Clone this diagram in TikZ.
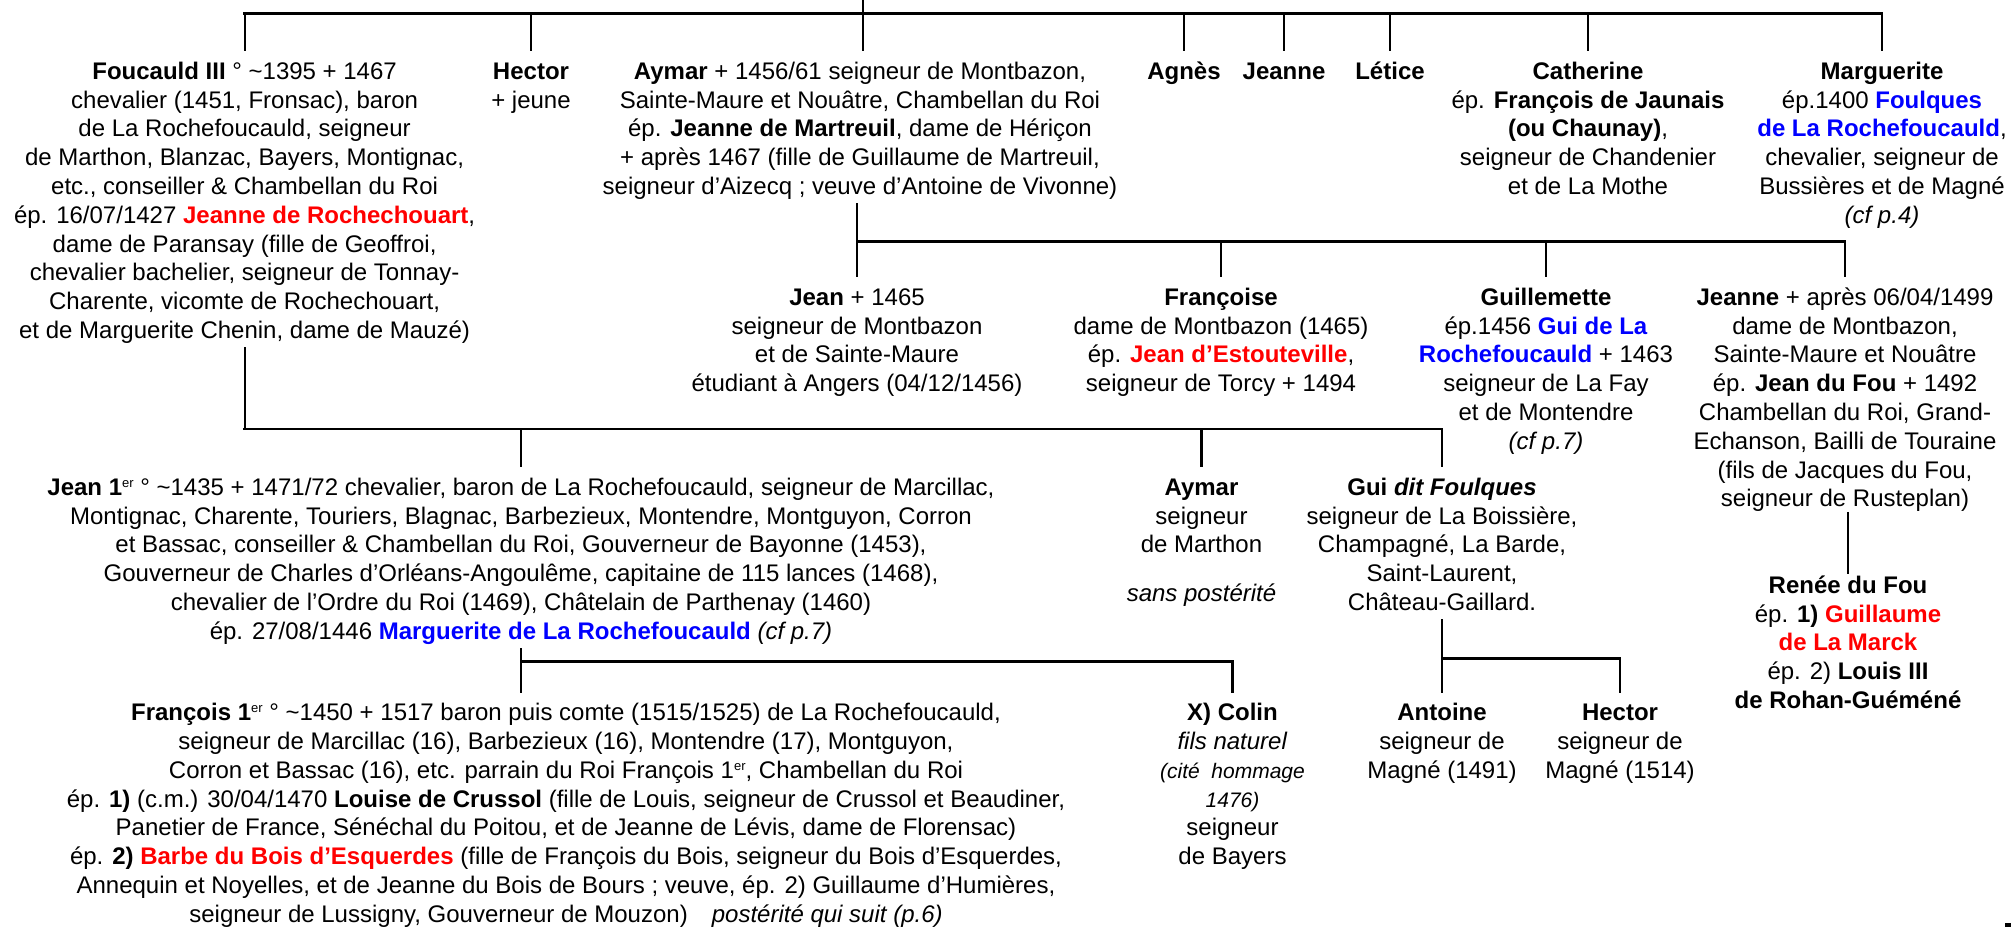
\documentclass[tikz,border=0pt]{standalone}
\usepackage{fontspec}
\setmainfont{Liberation Sans}
\usetikzlibrary{calc}
\definecolor{rred}{RGB}{255,0,0}
\definecolor{bblue}{RGB}{0,0,255}
\newcommand\hdtop{\rule{0pt}{28pt}}
\newcommand\redname[1]{\textcolor{rred}{\textbf{#1}}}
\newcommand\bluename[1]{\textcolor{bblue}{\textbf{#1}}}
\newcommand\smallsup[1]{\raisebox{8pt}{\fontsize{13}{13}\selectfont\mdseries #1}}
\begin{document}
\begin{tikzpicture}[x=1pt,y=-1pt,
  person/.style={align=center, inner sep=0pt, anchor=north, font=\fontsize{24}{28.8}\selectfont},
  bar/.style={line width=2.8pt, line cap=rect},
  drop/.style={line width=2.1pt}]
\useasboundingbox (0,0) rectangle (2011,927);

% ---------- row 1 ----------
\node[person] (foucauld) at (244.6,51) {\hdtop\textbf{Foucauld III} ° \textasciitilde1395 + 1467\\
chevalier (1451, Fronsac), baron\\
de La Rochefoucauld, seigneur\\
de Marthon, Blanzac, Bayers, Montignac,\\
etc., conseiller \& Chambellan du Roi\\
ép. 16/07/1427 \redname{Jeanne de Rochechouart},\\
dame de Paransay (fille de Geoffroi,\\
chevalier bachelier, seigneur de Tonnay-\\
Charente, vicomte de Rochechouart,\\
et de Marguerite Chenin, dame de Mauzé)\strut};

\node[person] (hector) at (531,51) {\hdtop\textbf{Hector}\\ + jeune};

\node[person] (aymar) at (860,51) {\hdtop\textbf{Aymar} + 1456/61 seigneur de Montbazon,\\
Sainte-Maure et Nouâtre, Chambellan du Roi\\
ép. \textbf{Jeanne de Martreuil}, dame de Hériçon\\
+ après 1467 (fille de Guillaume de Martreuil,\\
seigneur d’Aizecq ; veuve d’Antoine de Vivonne)\strut};

\node[person] (agnes) at (1184,51) {\hdtop\textbf{Agnès}};
\node[person] (jeanneA) at (1284,51) {\hdtop\textbf{Jeanne}};
\node[person] (letice) at (1390,51) {\hdtop\textbf{Létice}};

\node[person] (catherine) at (1588,51) {\hdtop\textbf{Catherine}\\
ép. \textbf{François de Jaunais}\\
\textbf{(ou Chaunay)},\\
seigneur de Chandenier\\
et de La Mothe};

\node[person] (marguerite) at (1882,51) {\hdtop\textbf{Marguerite}\\
ép.1400 \bluename{Foulques}\\
\bluename{de La Rochefoucauld},\\
chevalier, seigneur de\\
Bussières et de Magné\\
\textit{(cf p.4)}};

% ---------- row 2 ----------
\node[person] (jean) at (857,277) {\hdtop\textbf{Jean} + 1465\\
seigneur de Montbazon\\
et de Sainte-Maure\\
étudiant à Angers (04/12/1456)};

\node[person] (francoise) at (1221,277) {\hdtop\textbf{Françoise}\\
dame de Montbazon (1465)\\
ép. \redname{Jean d’Estouteville},\\
seigneur de Torcy + 1494};

\node[person] (guillemette) at (1546,277) {\hdtop\textbf{Guillemette}\\
ép.1456 \bluename{Gui de La}\\
\bluename{Rochefoucauld} + 1463\\
seigneur de La Fay\\
et de Montendre\\
\textit{(cf p.7)}};

\node[person] (jeanneB) at (1845,277) {\hdtop\textbf{Jeanne} + après 06/04/1499\\
dame de Montbazon,\\
Sainte-Maure et Nouâtre\\
ép. \textbf{Jean du Fou} + 1492\\
Chambellan du Roi, Grand-\\
Echanson, Bailli de Touraine\\
(fils de Jacques du Fou,\\
seigneur de Rusteplan)};

% ---------- row 3 ----------
\node[person] (jean1) at (521,467) {\hdtop\textbf{Jean 1}\smallsup{er} ° \textasciitilde1435 + 1471/72 chevalier, baron de La Rochefoucauld, seigneur de Marcillac,\\
Montignac, Charente, Touriers, Blagnac, Barbezieux, Montendre, Montguyon, Corron\\
et Bassac, conseiller \& Chambellan du Roi, Gouverneur de Bayonne (1453),\\
Gouverneur de Charles d’Orléans-Angoulême, capitaine de 115 lances (1468),\\
chevalier de l’Ordre du Roi (1469), Châtelain de Parthenay (1460)\\
ép. 27/08/1446 \bluename{Marguerite de La Rochefoucauld} \textit{(cf p.7)}\strut};

\node[person] (aymar2) at (1201.5,467) {\hdtop\textbf{Aymar}\\
seigneur\\
de Marthon\\[19.6pt]
\textit{sans postérité}};

\node[person] (gui) at (1442,467) {\hdtop\textbf{Gui \textit{dit Foulques}}\\
seigneur de La Boissière,\\
Champagné, La Barde,\\
Saint-Laurent,\\
Château-Gaillard.\strut};

\node[person] (renee) at (1848,574) {\rule{0pt}{19pt}\textbf{Renée du Fou}\\
ép. \textbf{1)} \redname{Guillaume}\\
\redname{de La Marck}\\
ép. 2) \textbf{Louis III}\\
\textbf{de Rohan-Guéméné}};

% ---------- row 4 ----------
\node[person] (francois1) at (566,692.5) {\hdtop\textbf{François 1}\smallsup{er} ° \textasciitilde1450 + 1517 baron puis comte (1515/1525) de La Rochefoucauld,\\
seigneur de Marcillac (16), Barbezieux (16), Montendre (17), Montguyon,\\
Corron et Bassac (16), etc. parrain du Roi François 1\smallsup{er}, Chambellan du Roi\\
ép. \textbf{1)} (c.m.) 30/04/1470 \textbf{Louise de Crussol} (fille de Louis, seigneur de Crussol et Beaudiner,\\
Panetier de France, Sénéchal du Poitou, et de Jeanne de Lévis, dame de Florensac)\\
ép. \textbf{2)} \redname{Barbe du Bois d’Esquerdes} (fille de François du Bois, seigneur du Bois d’Esquerdes,\\
Annequin et Noyelles, et de Jeanne du Bois de Bours ; veuve, ép. 2) Guillaume d’Humières,\\
seigneur de Lussigny, Gouverneur de Mouzon)\quad \textit{postérité qui suit (p.6)}};

\node[person] (colin) at (1232.5,692.5) {\hdtop\textbf{X) Colin}\\
\textit{fils naturel}\\
{\fontsize{21}{28.8}\selectfont\itshape (cité\ \ hommage}\\
{\fontsize{21}{28.8}\selectfont\itshape 1476)}\\
seigneur\\
de Bayers};

\node[person] (antoine) at (1442,692.5) {\hdtop\textbf{Antoine}\\
seigneur de\\
Magné (1491)};

\node[person] (hector2) at (1620,692.5) {\hdtop\textbf{Hector}\\
seigneur de\\
Magné (1514)};

% ---------- connectors ----------
\coordinate (b1) at (0,13.3);
\coordinate (orig) at (862.8,0);
\draw[drop] (orig) -- (orig |- aymar.north);
\draw[bar] (foucauld.north |- b1) -- (marguerite.north |- b1);
\foreach \n in {foucauld,hector,agnes,jeanneA,letice,catherine,marguerite}
  \draw[drop] (\n.north |- b1) -- (\n.north);

\coordinate (b2) at (0,241.7);
\draw[drop] (jean.north |- aymar.south) -- (jean.north);
\draw[bar] (jean.north |- b2) -- (jeanneB.north |- b2);
\foreach \n in {francoise,guillemette,jeanneB}
  \draw[drop] (\n.north |- b2) -- (\n.north);

\coordinate (b3) at (0,429);
\draw[drop] (foucauld.south) -- (foucauld.south |- b3);
\draw[bar] (foucauld.south |- b3) -- (gui.north |- b3);
\foreach \n in {jean1,aymar2,gui}
  \draw[drop] (\n.north |- b3) -- (\n.north);

\draw[drop] (renee.north |- jeanneB.south) -- (renee.north);

\coordinate (b4) at (0,661.7);
\draw[drop] (jean1.south) -- (jean1.south |- francois1.north);
\draw[bar] (jean1.south |- b4) -- (colin.north |- b4);
\draw[drop] (colin.north |- b4) -- (colin.north);

\coordinate (b5) at (0,658.3);
\draw[drop] (gui.south) -- (gui.south |- antoine.north);
\draw[bar] (gui.south |- b5) -- (hector2.north |- b5);
\draw[drop] (hector2.north |- b5) -- (hector2.north);

% page mark cut at the corner
\fill (2005,923) rectangle (2011,927);
\end{tikzpicture}
\end{document}
